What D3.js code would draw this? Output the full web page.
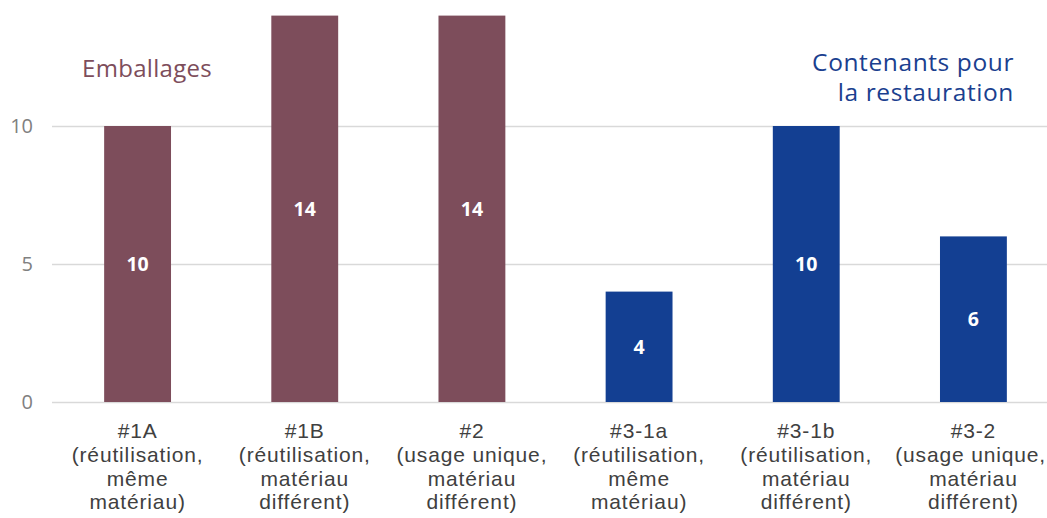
<!DOCTYPE html>
<html>
<head>
<meta charset="utf-8">
<script src="https://cdn.jsdelivr.net/npm/d3@7"></script>
<style>
  body { margin: 0; background: #fff; }
  svg { display: block; font-family: "Open Sans", Lato, sans-serif; }
  .cat-label { font-family: "Liberation Sans", Arial, sans-serif; }
</style>
</head>
<body>
<svg id="chart" width="1047" height="518"></svg>
<script>
// Categories, each with its multi-line axis label
const codes = ["#1A", "#1B", "#2", "#3-1a", "#3-1b", "#3-2"];
const details = [
  ["(réutilisation,", "même", "matériau)"],
  ["(réutilisation,", "matériau", "différent)"],
  ["(usage unique,", "matériau", "différent)"],
  ["(réutilisation,", "même", "matériau)"],
  ["(réutilisation,", "matériau", "différent)"],
  ["(usage unique,", "matériau", "différent)"]
];
const values = [10, 14, 14, 4, 10, 6];
const groups = ["Emballages", "Emballages", "Emballages", "Restauration", "Restauration", "Restauration"];
const yTicks = [0, 5, 10];

const colors = { "Emballages": "#7d4d5b", "Restauration": "#133f92" };

const W = 1047;
const svg = d3.select("#chart");

const x = d3.scaleBand()
  .domain(codes)
  .range([54, 1057])
  .paddingInner(0.6)
  .paddingOuter(0.3);

const y = d3.scaleLinear()
  .domain([0, 14])
  .range([402, 15.6]);

// Horizontal gridlines
svg.append("g")
  .selectAll("line")
  .data(yTicks)
  .join("line")
  .attr("x1", 52)
  .attr("x2", W)
  .attr("y1", d => y(d) + 0.5)
  .attr("y2", d => y(d) + 0.5)
  .attr("stroke", "#d9d9d9")
  .attr("stroke-width", 1.3);

// Y tick labels
svg.append("g")
  .selectAll("text")
  .data(yTicks)
  .join("text")
  .attr("x", 33)
  .attr("y", d => y(d))
  .attr("dy", "0.36em")
  .attr("text-anchor", "end")
  .attr("fill", "#808080")
  .attr("font-size", 20)
  .text(d => d);

// Bars
const data = codes.map((c, i) => ({ code: c, value: values[i], group: groups[i], detail: details[i] }));

svg.append("g")
  .selectAll("rect")
  .data(data)
  .join("rect")
  .attr("x", d => x(d.code))
  .attr("width", x.bandwidth())
  .attr("y", d => y(d.value))
  .attr("height", d => y(0) - y(d.value))
  .attr("fill", d => colors[d.group]);

// Value labels at the middle of each bar
svg.append("g")
  .selectAll("text")
  .data(data)
  .join("text")
  .attr("x", d => x(d.code) + x.bandwidth() / 2)
  .attr("y", d => y(d.value / 2))
  .attr("dy", "0.36em")
  .attr("text-anchor", "middle")
  .attr("fill", "#ffffff")
  .attr("font-weight", "bold")
  .attr("font-size", 19.5)
  .text(d => d.value);

// Category labels: code on the first line, description below
const cat = svg.append("g")
  .selectAll("g")
  .data(data)
  .join("g")
  .attr("transform", d => `translate(${x(d.code) + x.bandwidth() / 2},0)`);

cat.selectAll("text")
  .data(d => [d.code, ...d.detail])
  .join("text")
  .attr("class", "cat-label")
  .attr("x", 0)
  .attr("y", (line, i) => 438 + i * 23.8)
  .attr("text-anchor", "middle")
  .attr("fill", "#404040")
  .attr("font-size", 21)
  .attr("letter-spacing", 0.85)
  .text(line => line);

// Keep the widest lines inside the right edge of the svg
cat.selectAll("text").each(function () {
  const box = this.getBoundingClientRect();
  const overflow = box.right - (W - 1);
  if (overflow > 0) d3.select(this).attr("x", -overflow);
});

// Group annotations
svg.append("text")
  .attr("x", 82)
  .attr("y", 77)
  .attr("fill", "#7d4d5b")
  .attr("font-size", 24)
  .attr("letter-spacing", 0.3)
  .text("Emballages");

const rest = svg.append("text")
  .attr("text-anchor", "end")
  .attr("fill", "#1b3f8f")
  .attr("font-size", 24.5)
  .attr("letter-spacing", 0.6);
rest.append("tspan").attr("x", 1014).attr("y", 71).text("Contenants pour");
rest.append("tspan").attr("x", 1014).attr("y", 101).text("la restauration");
</script>
</body>
</html>
